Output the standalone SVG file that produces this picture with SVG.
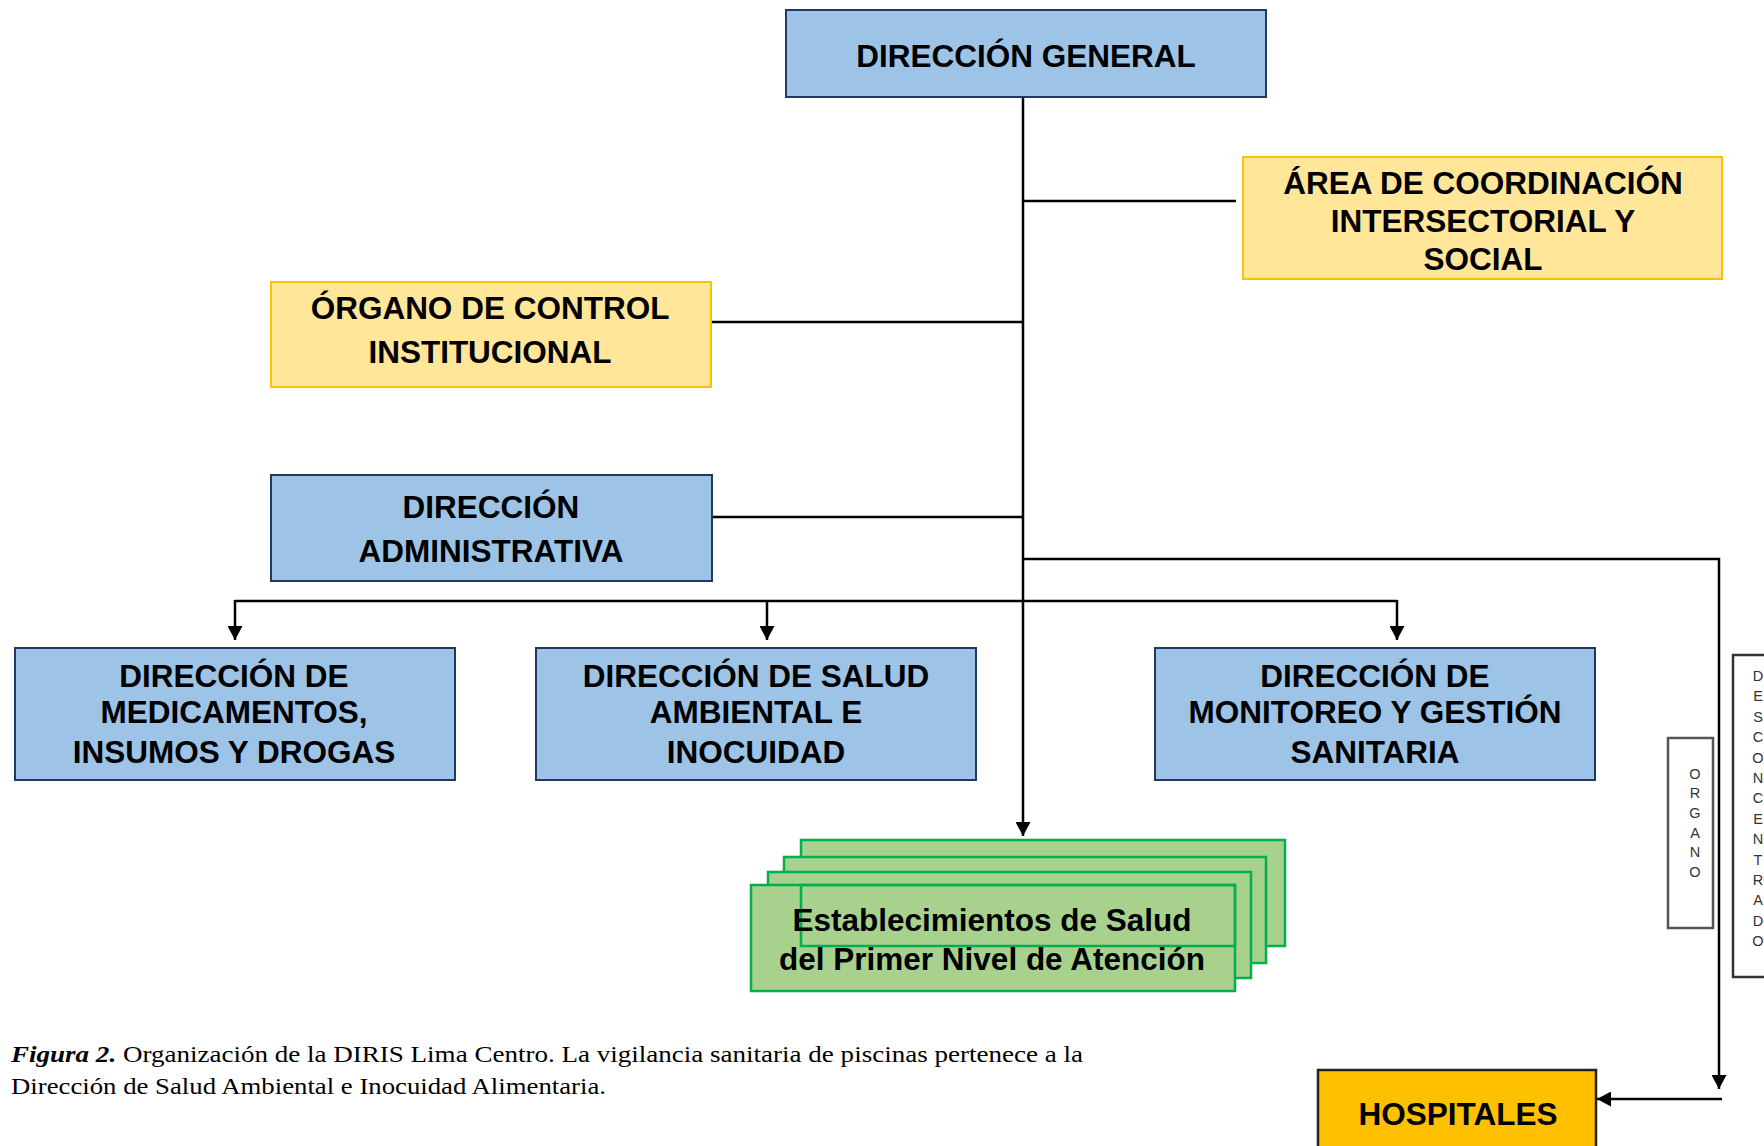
<svg xmlns="http://www.w3.org/2000/svg" width="1764" height="1146" viewBox="0 0 1764 1146">
<style>
.blue{fill:#9DC3E6;stroke:#1F3864;stroke-width:2}
.yel{fill:#FFE699;stroke:#FFC000;stroke-width:2}
.grn{fill:#A9D18E;stroke:#00B050;stroke-width:2.5}
.hosp{fill:#FFC000;stroke:#222;stroke-width:2.5}
.t{font-family:"Liberation Sans",Arial,sans-serif;font-weight:bold;font-size:31.5px;fill:#000;text-anchor:middle}
.v{font-family:"Liberation Sans",Arial,sans-serif;font-size:14.5px;fill:#333;text-anchor:middle}
.ln{fill:none;stroke:#000;stroke-width:2.5}
.cap{font-family:"Liberation Serif","Times New Roman",serif;font-size:24px;fill:#000}
</style>
<defs>
<marker id="ah" viewBox="0 0 14 15" refX="14" refY="7.5" markerWidth="14" markerHeight="15" markerUnits="userSpaceOnUse" orient="auto">
<path d="M0,0 L14,7.5 L0,15 z" fill="#000"/>
</marker>
</defs>
<rect width="1764" height="1146" fill="#fff"/>
<g id="connectors">
<line class="ln" x1="1023" y1="97" x2="1023" y2="836" marker-end="url(#ah)"/>
<line class="ln" x1="1023" y1="201" x2="1236" y2="201"/>
<line class="ln" x1="712" y1="322" x2="1023" y2="322"/>
<line class="ln" x1="712" y1="517" x2="1023" y2="517"/>
<polyline class="ln" points="1023,559 1719,559 1719,1089" marker-end="url(#ah)"/>
<line class="ln" x1="1722" y1="1099" x2="1597" y2="1099" marker-end="url(#ah)"/>
<line class="ln" x1="235" y1="601" x2="1397" y2="601"/>
<line class="ln" x1="235" y1="600" x2="235" y2="640" marker-end="url(#ah)"/>
<line class="ln" x1="767" y1="600" x2="767" y2="640" marker-end="url(#ah)"/>
<line class="ln" x1="1397" y1="600" x2="1397" y2="640" marker-end="url(#ah)"/>
</g>
<g id="direccion-general">
<rect class="blue" x="786" y="10" width="480" height="87"/>
<text class="t" x="1026" y="67">DIRECCIÓN GENERAL</text>
</g>
<g id="area-coordinacion">
<rect class="yel" x="1243" y="157" width="479" height="122"/>
<text class="t" x="1483" y="194">ÁREA DE COORDINACIÓN</text>
<text class="t" x="1483" y="232">INTERSECTORIAL Y</text>
<text class="t" x="1483" y="270">SOCIAL</text>
</g>
<g id="organo-control">
<rect class="yel" x="271" y="282" width="440" height="105"/>
<text class="t" x="490" y="319">ÓRGANO DE CONTROL</text>
<text class="t" x="490" y="363">INSTITUCIONAL</text>
</g>
<g id="direccion-administrativa">
<rect class="blue" x="271" y="475" width="441" height="106"/>
<text class="t" x="491" y="518">DIRECCIÓN</text>
<text class="t" x="491" y="562">ADMINISTRATIVA</text>
</g>
<g id="dir-medicamentos">
<rect class="blue" x="15" y="648" width="440" height="132"/>
<text class="t" x="234" y="687">DIRECCIÓN DE</text>
<text class="t" x="234" y="723">MEDICAMENTOS,</text>
<text class="t" x="234" y="763">INSUMOS Y DROGAS</text>
</g>
<g id="dir-salud-ambiental">
<rect class="blue" x="536" y="648" width="440" height="132"/>
<text class="t" x="756" y="687">DIRECCIÓN DE SALUD</text>
<text class="t" x="756" y="723">AMBIENTAL E</text>
<text class="t" x="756" y="763">INOCUIDAD</text>
</g>
<g id="dir-monitoreo">
<rect class="blue" x="1155" y="648" width="440" height="132"/>
<text class="t" x="1375" y="687">DIRECCIÓN DE</text>
<text class="t" x="1375" y="723">MONITOREO Y GESTIÓN</text>
<text class="t" x="1375" y="763">SANITARIA</text>
</g>
<g id="establecimientos">
<rect class="grn" x="801" y="840" width="484" height="106"/>
<rect class="grn" x="784" y="857" width="482" height="106"/>
<rect class="grn" x="768" y="872" width="483" height="106"/>
<rect class="grn" x="751" y="885" width="484" height="106"/>
<rect class="grn" x="801" y="885" width="434" height="61" style="fill:none"/>
<text class="t" x="992" y="931">Establecimientos de Salud</text>
<text class="t" x="992" y="970">del Primer Nivel de Atención</text>
</g>
<g id="organo">
<rect x="1668" y="738" width="45" height="190" fill="#fff" stroke="#555" stroke-width="2.5"/>
<text class="v" x="1695" y="779">O</text>
<text class="v" x="1695" y="798">R</text>
<text class="v" x="1695" y="818">G</text>
<text class="v" x="1695" y="838">A</text>
<text class="v" x="1695" y="857">N</text>
<text class="v" x="1695" y="877">O</text>
</g>
<g id="desconcentrado">
<rect x="1733" y="655" width="60" height="322" fill="#fff" stroke="#333" stroke-width="2.5"/>
<text class="v" x="1758" y="681">D</text>
<text class="v" x="1758" y="701">E</text>
<text class="v" x="1758" y="722">S</text>
<text class="v" x="1758" y="742">C</text>
<text class="v" x="1758" y="763">O</text>
<text class="v" x="1758" y="783">N</text>
<text class="v" x="1758" y="803">C</text>
<text class="v" x="1758" y="824">E</text>
<text class="v" x="1758" y="844">N</text>
<text class="v" x="1758" y="865">T</text>
<text class="v" x="1758" y="885">R</text>
<text class="v" x="1758" y="905">A</text>
<text class="v" x="1758" y="926">D</text>
<text class="v" x="1758" y="946">O</text>
</g>
<g id="hospitales">
<rect class="hosp" x="1318" y="1070" width="278" height="90"/>
<text class="t" x="1458" y="1125">HOSPITALES</text>
</g>
<g id="caption">
<text class="cap" x="11" y="1062" textLength="1072" lengthAdjust="spacingAndGlyphs"><tspan font-weight="bold" font-style="italic">Figura 2.</tspan> Organización de la DIRIS Lima Centro. La vigilancia sanitaria de piscinas pertenece a la</text>
<text class="cap" x="11" y="1094" textLength="595" lengthAdjust="spacingAndGlyphs">Dirección de Salud Ambiental e Inocuidad Alimentaria.</text>
</g>
</svg>
